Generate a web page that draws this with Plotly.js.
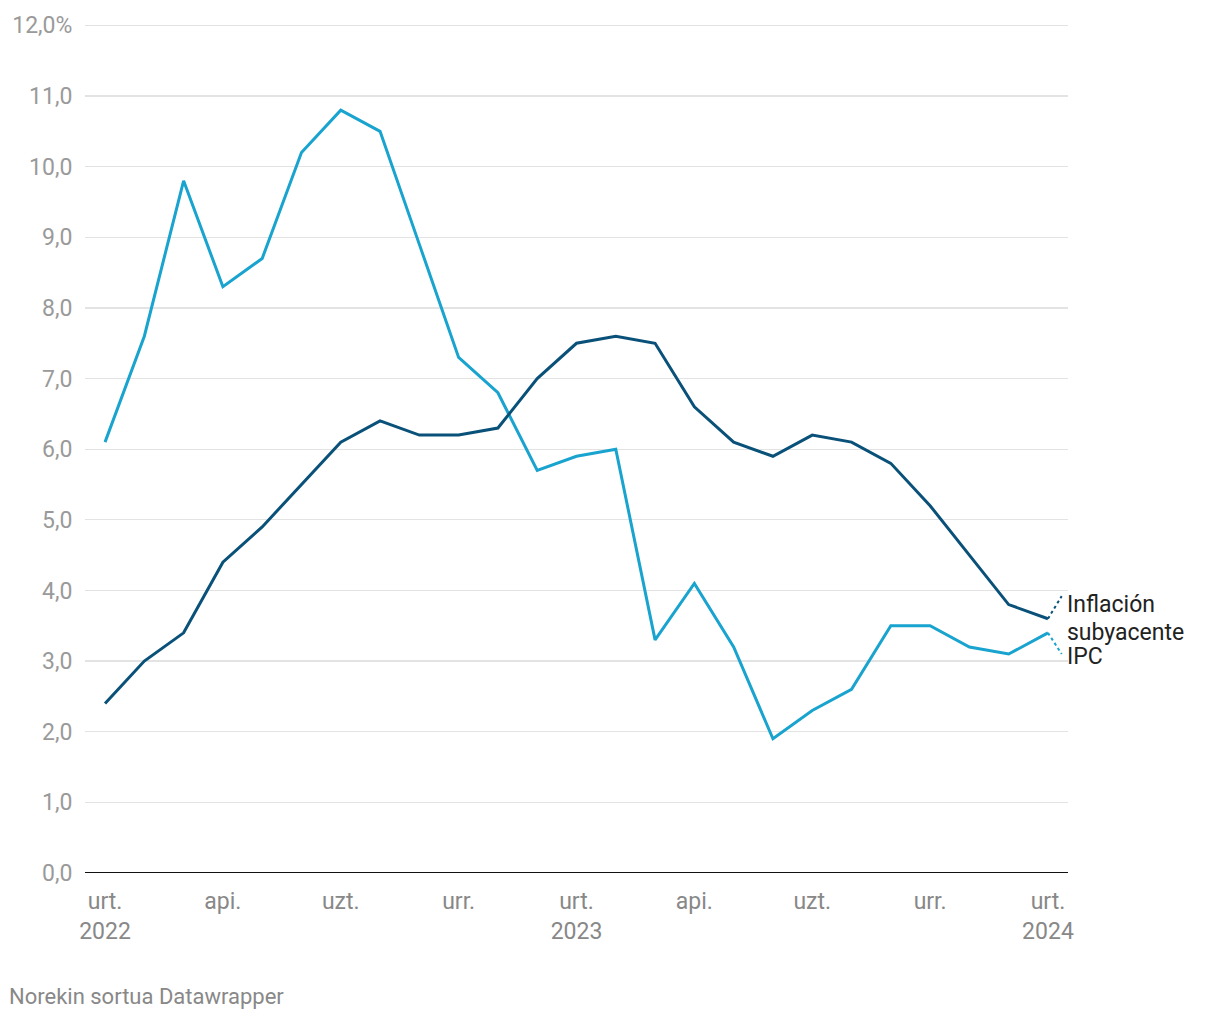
<!DOCTYPE html>
<html>
<head>
<meta charset="utf-8">
<script src="https://cdn.plot.ly/plotly-3.0.1.min.js"></script>
<style>
html,body{margin:0;padding:0;background:#fff;}
#chart{width:1220px;height:1020px;}
</style>
</head>
<body>
<div id="chart"></div>
<script>
// Months Jan 2022 .. Jan 2024 (index 0..24)
const months = ["2022-01","2022-02","2022-03","2022-04","2022-05","2022-06","2022-07","2022-08","2022-09","2022-10","2022-11","2022-12",
                "2023-01","2023-02","2023-03","2023-04","2023-05","2023-06","2023-07","2023-08","2023-09","2023-10","2023-11","2023-12","2024-01"];
const ipc = [6.1,7.6,9.8,8.3,8.7,10.2,10.8,10.5,8.9,7.3,6.8,5.7,5.9,6.0,3.3,4.1,3.2,1.9,2.3,2.6,3.5,3.5,3.2,3.1,3.4];
const subyacente = [2.4,3.0,3.4,4.4,4.9,5.5,6.1,6.4,6.2,6.2,6.3,7.0,7.5,7.6,7.5,6.6,6.1,5.9,6.2,6.1,5.8,5.2,4.5,3.8,3.6];
const xTickVals = [0,3,6,9,12,15,18,21,24];
const xTickText = ["urt.<br>2022","api.","uzt.","urr.","urt.<br>2023","api.","uzt.","urr.","urt.<br>2024"];
const yTickVals = [0,1,2,3,4,5,6,7,8,9,10,11,12];
const yTickText = ["0,0","1,0","2,0","3,0","4,0","5,0","6,0","7,0","8,0","9,0","10,0","11,0","12,0%"];
const labelSub = ["Inflación","subyacente"];
const labelIpc = "IPC";

const idx = months.map((m,i)=>i);
const cDark = "#0a5179";
const cLight = "#19a3cf";
const last = idx.length-1;

const traces = [
  {x: idx, y: ipc, type:"scatter", mode:"lines", line:{color:cLight, width:3}, hoverinfo:"skip", name:"IPC"},
  {x: idx, y: subyacente, type:"scatter", mode:"lines", line:{color:cDark, width:3}, hoverinfo:"skip", name:"Inflación subyacente"}
];

const lblFont = {family:"Roboto, sans-serif", size:23, color:"#222"};
const layout = {
  width:1220, height:1020,
  margin:{l:85, r:152, t:24, b:147},
  paper_bgcolor:"#fff", plot_bgcolor:"#fff",
  showlegend:false,
  font:{family:"Roboto, sans-serif", size:23, color:"#888"},
  xaxis:{
    range:[-0.51,24.51], tickvals:xTickVals, ticktext:xTickText,
    showgrid:false, zeroline:false, showline:false,
    ticks:"outside", ticklen:7, tickcolor:"rgba(0,0,0,0)",
    tickfont:{family:"Roboto, sans-serif", size:23, color:"#888"}
  },
  yaxis:{
    range:[0,12.02], tickvals:yTickVals, ticktext:yTickText,
    showgrid:true, gridcolor:"#e3e3e3", gridwidth:1.3,
    zeroline:false, showline:false,
    ticks:"outside", ticklen:7, tickcolor:"rgba(0,0,0,0)",
    tickfont:{family:"Roboto, sans-serif", size:23, color:"#9a9a9a"}
  },
  shapes:[
    {type:"line", xref:"paper", yref:"y", x0:0, x1:1, y0:0, y1:0, line:{color:"#111", width:2}},
    {type:"line", xref:"x", yref:"y", x0:last, y0:subyacente[last], x1:last+0.35, y1:subyacente[last]+0.32, line:{color:cDark, width:2, dash:"dot"}},
    {type:"line", xref:"x", yref:"y", x0:last, y0:ipc[last], x1:last+0.35, y1:ipc[last]-0.3, line:{color:cLight, width:2, dash:"dot"}}
  ],
  annotations:[
    {xref:"paper", yref:"y", x:1, y:subyacente[last]+0.2, xanchor:"left", yanchor:"middle", text:labelSub[0], showarrow:false, align:"left", font:lblFont, xshift:-3},
    {xref:"paper", yref:"y", x:1, y:subyacente[last]-0.19, xanchor:"left", yanchor:"middle", text:labelSub[1], showarrow:false, align:"left", font:lblFont, xshift:-3},
    {xref:"paper", yref:"y", x:1, y:ipc[last]-0.33, xanchor:"left", yanchor:"middle", text:labelIpc, showarrow:false, align:"left", font:lblFont, xshift:-3},
    {xref:"paper", yref:"paper", x:-0.079, y:-0.145, xanchor:"left", yanchor:"middle", text:"Norekin sortua Datawrapper", showarrow:false,
     font:{family:"Roboto, sans-serif", size:22, color:"#888"}}
  ]
};
Plotly.newPlot("chart", traces, layout, {displayModeBar:false, staticPlot:true});
</script>
</body>
</html>
